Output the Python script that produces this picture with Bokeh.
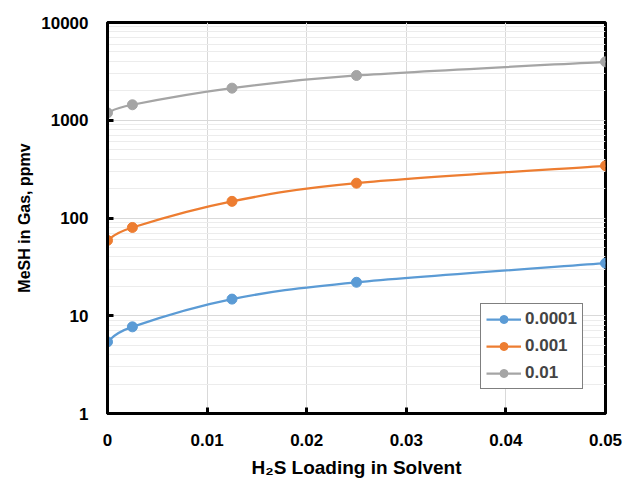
import numpy as np
from bokeh.plotting import figure
from bokeh.models import Range1d, FixedTicker, Legend, LegendItem, ColumnDataSource, Title
from bokeh.embed import file_html
from bokeh.resources import INLINE

# ---- data ----
x_load = [0.0, 0.0025, 0.0125, 0.025, 0.05]
mesh_0001 = [5.4, 7.7, 14.8, 22.0, 34.5]
mesh_001 = [59.0, 80.0, 148.0, 227.0, 342.0]
mesh_01 = [1190.0, 1440.0, 2130.0, 2870.0, 3960.0]
series_names = ["0.0001", "0.001", "0.01"]
series_colors = ["#5B9BD5", "#ED7D31", "#A5A5A5"]
x_ticks = [0.0, 0.01, 0.02, 0.03, 0.04, 0.05]
x_tick_labels = ["0", "0.01", "0.02", "0.03", "0.04", "0.05"]
y_ticks = [1, 10, 100, 1000, 10000]
y_tick_labels = ["1", "10", "100", "1000", "10000"]
x_title = "H\u2082S Loading in Solvent"
y_title = "MeSH in Gas, ppmv"

FONT = "Liberation Sans"

p = figure(
    output_backend="svg", toolbar_location=None,
    frame_width=498, frame_height=391,
    min_border_left=107, min_border_right=20, min_border_top=22, min_border_bottom=72,
    x_range=Range1d(0, 0.05), y_range=Range1d(1, 10000), y_axis_type="log",
    background_fill_color="white", border_fill_color="white",
)
p.outline_line_color = "black"
p.outline_line_width = 3
p.outline_line_alpha = 1.0

# axes
minor_y = [m * 10 ** k for k in range(4) for m in range(2, 10)]
p.xaxis.ticker = FixedTicker(ticks=x_ticks)
p.yaxis.ticker = FixedTicker(ticks=y_ticks, minor_ticks=minor_y)
p.xaxis.major_label_overrides = {t: l for t, l in zip(x_ticks, x_tick_labels)}
p.yaxis.major_label_overrides = {t: l for t, l in zip(y_ticks, y_tick_labels)}
for ax in (p.xaxis[0], p.yaxis[0]):
    ax.axis_line_color = "black"
    ax.axis_line_width = 3
    ax.major_tick_in = 6
    ax.major_tick_out = 0
    ax.major_tick_line_color = "black"
    ax.major_tick_line_width = 3
    ax.minor_tick_in = 0
    ax.minor_tick_out = 0
    ax.major_label_text_font = FONT
    ax.major_label_text_font_style = "bold"
    ax.major_label_text_font_size = "17px"
    ax.major_label_text_color = "black"
    ax.axis_label_text_font = FONT
    ax.axis_label_text_font_style = "bold"
    ax.axis_label_text_color = "black"
p.xaxis.axis_label = x_title
p.xaxis.axis_label_text_font_size = "19px"
p.xaxis.major_label_standoff = 20
p.xaxis.axis_label_standoff = 8
p.yaxis.major_label_standoff = 19

# y title: shifted upward from the frame's middle, as in the original
p.add_layout(Title(
    text=y_title, align="center", offset=31, standoff=12,
    text_font=FONT, text_font_style="bold", text_font_size="16px",
    text_color="black",
), "left")

# grid
p.xgrid.grid_line_color = "#d9d9d9"
p.xgrid.grid_line_width = 1
p.ygrid.grid_line_color = "#d9d9d9"
p.ygrid.grid_line_width = 1
p.ygrid.minor_grid_line_color = "#ececec"
p.ygrid.minor_grid_line_width = 1


def smooth_segments(xs, ys):
    """Bezier control points (Catmull-Rom style) in x / log10(y) space."""
    xs = np.asarray(xs, float)
    ly = np.log10(np.asarray(ys, float))
    n = len(xs)
    d = dict(x0=[], y0=[], x1=[], y1=[], cx0=[], cy0=[], cx1=[], cy1=[])
    for i in range(n - 1):
        im1 = max(i - 1, 0)
        ip2 = min(i + 2, n - 1)
        c0x = xs[i] + (xs[i + 1] - xs[im1]) / 6
        c0y = ly[i] + (ly[i + 1] - ly[im1]) / 6
        c1x = xs[i + 1] - (xs[ip2] - xs[i]) / 6
        c1y = ly[i + 1] - (ly[ip2] - ly[i]) / 6
        d["x0"].append(xs[i]); d["y0"].append(10 ** ly[i])
        d["x1"].append(xs[i + 1]); d["y1"].append(10 ** ly[i + 1])
        d["cx0"].append(c0x); d["cy0"].append(10 ** c0y)
        d["cx1"].append(c1x); d["cy1"].append(10 ** c1y)
    return ColumnDataSource(d)


items = []
for name, col, ys in zip(series_names, series_colors, [mesh_0001, mesh_001, mesh_01]):
    bz = p.bezier(x0="x0", y0="y0", x1="x1", y1="y1", cx0="cx0", cy0="cy0",
                  cx1="cx1", cy1="cy1", source=smooth_segments(x_load, ys),
                  line_color=col, line_width=2.25)
    sc = p.scatter(x_load, ys, size=10, marker="circle", fill_color=col, line_color=col)
    items.append(LegendItem(label=name, renderers=[bz, sc]))

legend = Legend(items=items, location=(373, 24))
legend.border_line_color = "black"
legend.border_line_width = 1.5
legend.background_fill_color = "white"
legend.background_fill_alpha = 1
legend.label_text_font = FONT
legend.label_text_font_style = "bold"
legend.label_text_font_size = "17px"
legend.glyph_width = 35
legend.glyph_height = 20
legend.label_height = 20
legend.label_standoff = 4
legend.spacing = 7
legend.padding = 5
legend.margin = 0
p.add_layout(legend, "center")

open("out.html", "w").write(file_html(p, INLINE))
